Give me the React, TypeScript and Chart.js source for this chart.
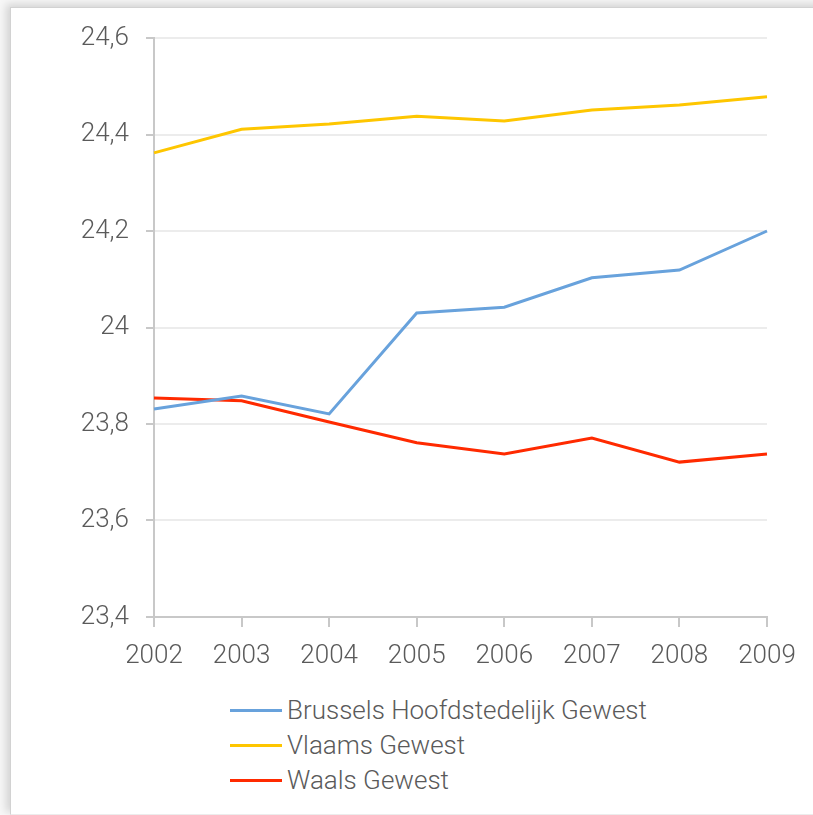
import React, { useEffect, useRef } from "react";
import { Chart, registerables } from "chart.js";

Chart.register(...registerables);

const years = ["2002", "2003", "2004", "2005", "2006", "2007", "2008", "2009"];
const brussels = [23.831, 23.858, 23.821, 24.03, 24.042, 24.103, 24.119, 24.2];
const vlaams = [24.362, 24.411, 24.422, 24.438, 24.428, 24.451, 24.461, 24.478];
const waals = [23.854, 23.848, 23.804, 23.761, 23.738, 23.771, 23.721, 23.738];

const seriesNames = ["Brussels Hoofdstedelijk Gewest", "Vlaams Gewest", "Waals Gewest"];
const seriesColors = ["#68a2dc", "#fec600", "#ff2a00"];

const FONT = "'Helvetica Neue', Roboto, 'Liberation Sans', sans-serif";
const TEXT = "#5a5a5a";
const AXIS = "#c8c8c8";
const GRID = "#ececec";

export default function App() {
  const canvasRef = useRef<HTMLCanvasElement | null>(null);

  useEffect(() => {
    document.body.style.margin = "0";
    const ctx = canvasRef.current;
    if (!ctx) return;
    const values = [brussels, vlaams, waals];
    const chart = new Chart(ctx, {
      type: "line",
      data: {
        labels: years,
        datasets: values.map((v, i) => ({
          label: seriesNames[i],
          data: v,
          borderColor: seriesColors[i],
          backgroundColor: seriesColors[i],
          borderWidth: 3,
          pointRadius: 0,
          tension: 0,
        })),
      },
      options: {
        animation: false,
        responsive: false,
        devicePixelRatio: 1,
        layout: { padding: { top: 38, right: 46, left: 0, bottom: 0 } },
        plugins: { legend: { display: false }, tooltip: { enabled: false } },
        scales: {
          x: {
            offset: false,
            grid: {
              drawOnChartArea: false,
              drawTicks: true,
              tickLength: 10,
              tickColor: AXIS,
              lineWidth: 2,
            },
            border: { color: AXIS, width: 2 },
            ticks: {
              color: TEXT,
              padding: 14,
              maxRotation: 0,
              autoSkip: false,
              font: { family: FONT, size: 26, weight: 300 },
            },
            afterFit: (scale: any) => {
              scale.height = 63;
            },
          },
          y: {
            min: 23.4,
            max: 24.6,
            grid: {
              color: GRID,
              lineWidth: 2,
              tickLength: 8,
              tickColor: AXIS,
            },
            border: { color: AXIS, width: 2 },
            ticks: {
              stepSize: 0.2,
              color: TEXT,
              padding: 17,
              font: { family: FONT, size: 26, weight: 300 },
              callback: (v: any) => {
                const n = Math.round(Number(v) * 10) / 10;
                return String(n).replace(".", ",");
              },
            },
            afterFit: (scale: any) => {
              scale.width = 154;
            },
          },
        },
      },
    });
    return () => chart.destroy();
  }, []);

  return (
    <div
      style={{
        position: "fixed",
        left: 0,
        top: 0,
        width: 813,
        height: 815,
        overflow: "hidden",
        background: "#f7f7f7",
        fontFamily: FONT,
      }}
    >
      <div
        style={{
          position: "absolute",
          left: 10,
          top: 7,
          width: 900,
          height: 806,
          background: "#ffffff",
          borderLeft: "1px solid #d2d2d2",
          borderTop: "1px solid #d2d2d2",
          borderBottom: "1px solid #ececec",
          boxShadow: "-4px -3px 8px rgba(0,0,0,0.14)",
        }}
      />
      <canvas
        ref={canvasRef}
        width={813}
        height={680}
        style={{ position: "absolute", left: 0, top: 0, width: 813, height: 680 }}
      />
      <div style={{ position: "absolute", left: 230, top: 693 }}>
        {seriesNames.map((name, i) => (
          <div
            key={name}
            style={{ display: "flex", alignItems: "center", height: 35 }}
          >
            <div
              style={{
                width: 52,
                height: 3,
                background: seriesColors[i],
                marginRight: 5,
              }}
            />
            <span
              style={{
                fontSize: 26,
                fontWeight: 300,
                color: TEXT,
                whiteSpace: "nowrap",
                lineHeight: "35px",
              }}
            >
              {name}
            </span>
          </div>
        ))}
      </div>
    </div>
  );
}
